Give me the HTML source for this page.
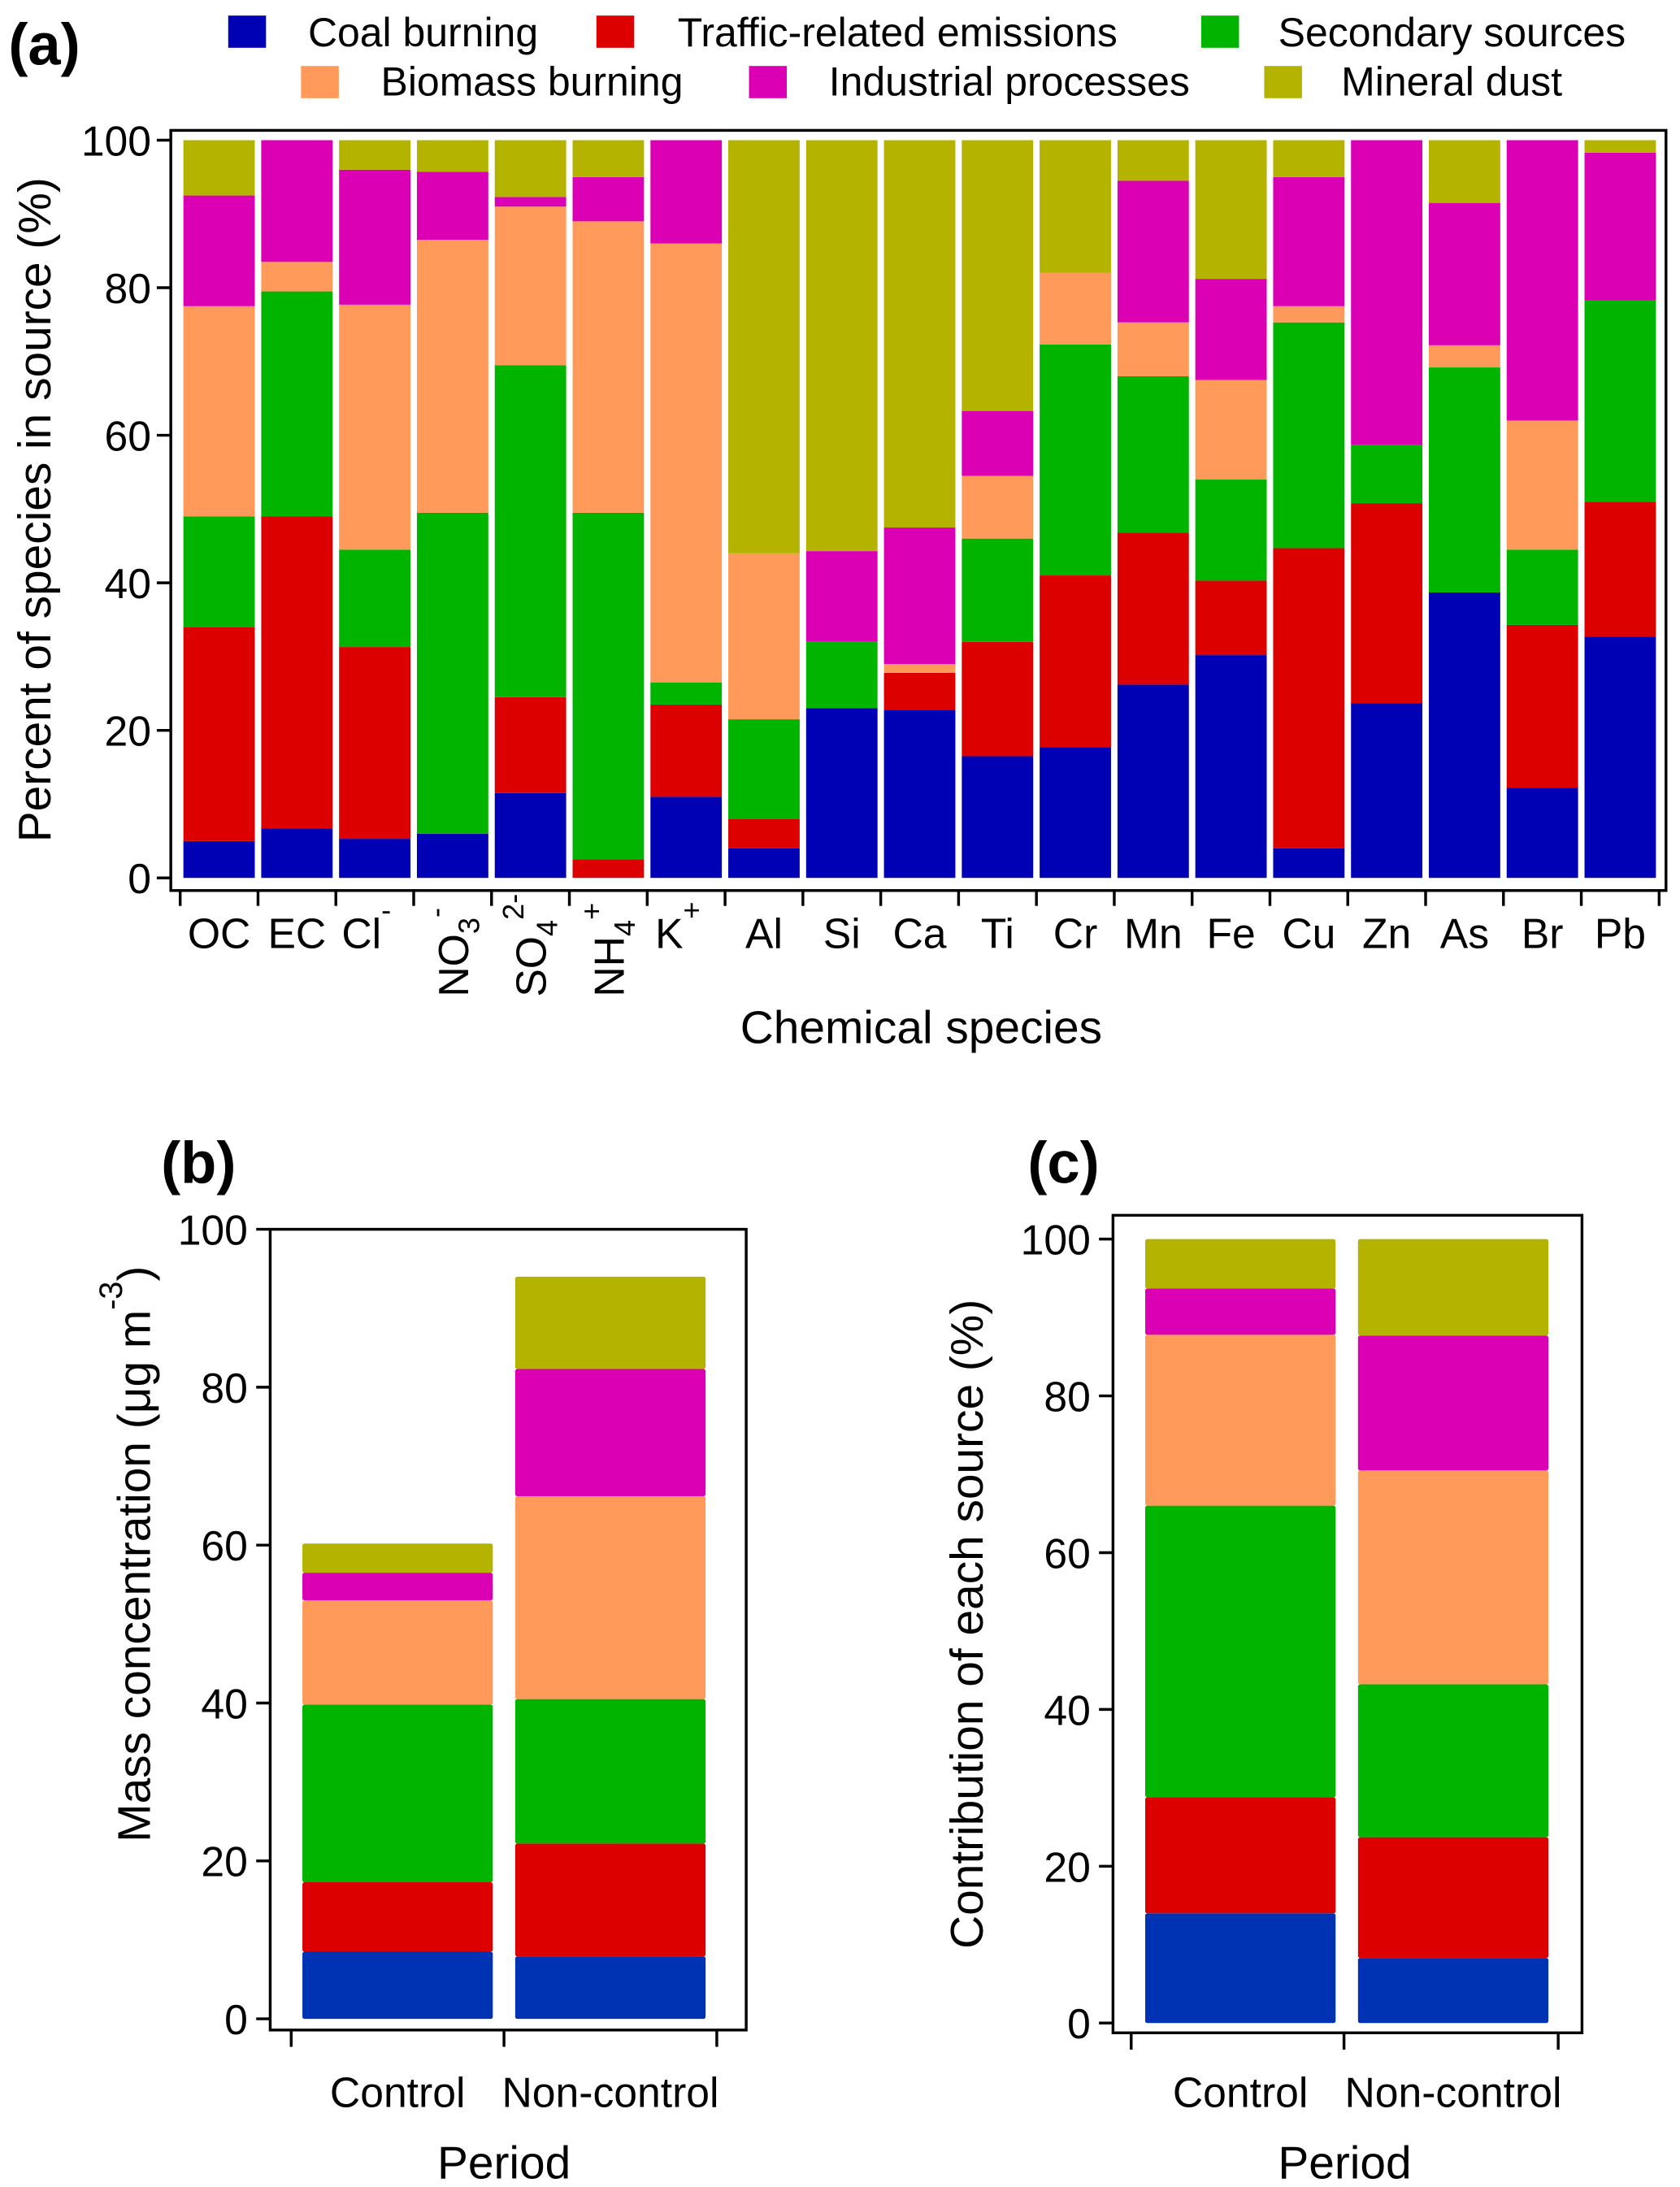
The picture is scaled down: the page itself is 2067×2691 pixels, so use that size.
<!DOCTYPE html>
<html><head><meta charset="utf-8"><style>
html,body{margin:0;padding:0;background:#fff}
svg{display:block;font-family:"Liberation Sans",sans-serif}
</style></head><body>
<svg id="fig" xmlns="http://www.w3.org/2000/svg" width="2067" height="2691" viewBox="0 0 1200 1562">
<rect x="0" y="0" width="1200" height="1562" fill="#fff"/>
<g id="legend" font-size="29" fill="#000">
 <g><rect x="163" y="11" width="27" height="23" fill="#0000b4"/><text x="220" y="33">Coal burning</text></g>
 <g><rect x="426" y="11" width="27" height="23" fill="#dc0000"/><text x="484" y="33">Traffic-related emissions</text></g>
 <g><rect x="858" y="11" width="27" height="23" fill="#00b400"/><text x="913" y="33">Secondary sources</text></g>
 <g><rect x="215" y="47" width="27" height="23" fill="#ff9a5a"/><text x="272" y="68">Biomass burning</text></g>
 <g><rect x="535" y="47" width="27" height="23" fill="#dc00b4"/><text x="592" y="68">Industrial processes</text></g>
 <g><rect x="903" y="47" width="27" height="23" fill="#b4b400"/><text x="958" y="68">Mineral dust</text></g>
</g>
<text x="6" y="46" font-size="42" font-weight="bold">(a)</text>
<text x="834" y="845" font-size="42" font-weight="bold" text-anchor="start" transform="translate(-100,0)">(c)</text>
<text x="115" y="845" font-size="42" font-weight="bold">(b)</text>
<g id="pa"></g>
<g id="pb"></g>
<g id="pc"></g>
</svg>
<script>
const sources = ["Coal burning","Traffic-related emissions","Secondary sources","Biomass burning","Industrial processes","Mineral dust"];
const colorsA = ["#0000b4","#dc0000","#00b400","#ff9a5a","#dc00b4","#b4b400"];
const colorsBC = ["#0033b4","#dc0000","#00b400","#ff9a5a","#dc00b4","#b4b400"];
const speciesA = ["OC","EC","Cl","NO3","SO4","NH4","K","Al","Si","Ca","Ti","Cr","Mn","Fe","Cu","Zn","As","Br","Pb"];
const coalA =      [5,6.7,5.3,6,11.5,0,11,4,23,22.8,16.5,17.7,26.2,30.2,4,23.7,38.7,12.2,32.7];
const trafficA =   [29,42.3,26,0,13,2.5,12.5,4,0,5,15.5,23.3,20.6,10.1,40.7,27.1,0,22.1,18.3];
const secondaryA = [15,30.5,13.2,43.5,45,47,3,13.5,9,0,14,31.3,21.2,13.7,30.6,7.9,30.5,10.2,27.3];
const biomassA =   [28.5,4,33.2,37,21.5,39.5,59.5,22.5,0,1.2,8.5,9.7,7.3,13.5,2.2,0,3,17.5,0];
const industrialA =[15,16.5,18.3,9.2,1.3,6,14,0,12.3,18.5,8.8,0,19.2,13.7,17.5,41.3,19.3,38,20];
const dustA =      [7.5,0,4,4.3,7.7,5,0,56,55.7,52.5,36.7,18,5.5,18.8,5,0,8.5,0,1.7];
const periods = ["Control","Non-control"];
const massB = [[8.5,7.9],[8.8,14.3],[22.5,18.3],[13.2,25.7],[3.5,16.1],[3.7,11.7]];
const contribC = [[14,8.3],[14.8,15.4],[37.2,19.5],[21.8,27.3],[5.9,17.2],[6.3,12.3]];
const yTicks = [0,20,40,60,80,100];
</script>
<script>
const NS="http://www.w3.org/2000/svg";
function mk(parent,tag,attrs,text){const e=document.createElementNS(NS,tag);for(const k in attrs)e.setAttribute(k,attrs[k]);if(text!==undefined)e.textContent=text;parent.appendChild(e);return e;}

// ---------- Panel A ----------
(function(){
 const g=document.getElementById('pa');
 const y0=627, ys=5.27; const yA=v=>y0-v*ys;
 const x0=156.5, step=55.6, bw=51; const xA=i=>x0+i*step;
 const series=[coalA,trafficA,secondaryA,biomassA,industrialA,dustA];
 for(let i=0;i<speciesA.length;i++){
  let cum=0;
  for(let s=0;s<6;s++){
   const v=series[s][i]; if(v<=0){continue;}
   const r=mk(g,'rect',{x:xA(i)-bw/2,y:yA(cum+v),width:bw,height:v*ys,fill:colorsA[s]});
   
   
   cum+=v;
  }
 }
 const fr=mk(g,'rect',{x:122,y:93,width:1068,height:543,fill:'none',stroke:'#000','stroke-width':2});
 
 
 for(const t of yTicks){
  const l=mk(g,'line',{x1:112,x2:122,y1:yA(t),y2:yA(t),stroke:'#000','stroke-width':2});
  
  
  const tx=mk(g,'text',{x:108,y:yA(t)+11,'font-size':30,'text-anchor':'end'},String(t));
  
  
 }
 for(let i=0;i<=speciesA.length;i++){
  const x=xA(i)-step/2;
  const l=mk(g,'line',{x1:x,x2:x,y1:636,y2:647,stroke:'#000','stroke-width':2});
  
  
 }
 const sups={Cl:'-',K:'+'};
 const rot={NO3:['NO','3','-'],SO4:['SO','4','2-'],NH4:['NH','4','+']};
 for(let i=0;i<speciesA.length;i++){
  const sp=speciesA[i];
  let t;
  if(rot[sp]){
   const p=rot[sp];
   t=mk(g,'text',{transform:`translate(${xA(i)+11},712) rotate(-90)`,'font-size':30});
   mk(t,'tspan',{},p[0]);
   mk(t,'tspan',{'font-size':21,dy:8},p[1]);
   mk(t,'tspan',{'font-size':21,dy:-24},p[2]);
  } else {
   t=mk(g,'text',{x:xA(i)-(sups[sp]?6:0),y:677,'font-size':30,'text-anchor':'middle'});
   mk(t,'tspan',{},sp);
   if(sups[sp]) mk(t,'tspan',{'font-size':21,dy:-20},sups[sp]);
  }
  
  
 }
 const xt=mk(g,'text',{x:658,y:745,'font-size':33,'text-anchor':'middle'},'Chemical species');
 
 
 const yt=mk(g,'text',{transform:'translate(36,364) rotate(-90)','font-size':33,'text-anchor':'middle'},'Percent of species in source (%)');
 
 
})();

// ---------- Panels B & C ----------
function drawBC(id,data,o){
 const g=document.getElementById(id);
 const yS=v=>o.y0-v*o.ys;
 for(let p=0;p<periods.length;p++){
  let cum=0;
  for(let s=0;s<6;s++){
   const v=data[s][p];
   const r=mk(g,'rect',{x:o.bx[p],y:yS(cum+v),width:o.bw,height:v*o.ys,fill:colorsBC[s],rx:1.5});
   
   
   cum+=v;
  }
 }
 const fr=mk(g,'rect',{x:o.fx,y:o.ft,width:o.fw,height:o.fb-o.ft,fill:'none',stroke:'#000','stroke-width':2});
 
 
 for(const t of yTicks){
  const l=mk(g,'line',{x1:o.fx-10,x2:o.fx,y1:yS(t),y2:yS(t),stroke:'#000','stroke-width':2});
  
  
  const tx=mk(g,'text',{x:o.fx-16,y:yS(t)+11,'font-size':30,'text-anchor':'end'},String(t));
  
  
 }
 for(const x of o.tx){
  const l=mk(g,'line',{x1:x,x2:x,y1:o.fb,y2:o.fb+12,stroke:'#000','stroke-width':2});
  
  
 }
 for(let p=0;p<periods.length;p++){
  const t=mk(g,'text',{x:o.bx[p]+o.bw/2,y:1505,'font-size':30,'text-anchor':'middle'},periods[p]);
  
  
 }
 const xt=mk(g,'text',{x:(o.tx[0]+o.tx[2])/2,y:1556,'font-size':33,'text-anchor':'middle'},'Period');
 
 
 return g;
}
const gb=drawBC('pb',massB,{n:'b',y0:1442,ys:5.64,bx:[216,368],bw:136,fx:193,ft:878,fw:340,fb:1450,tx:[208,360,512]});
const ytb=mk(gb,'text',{transform:'translate(107,1110) rotate(-90)','font-size':33,'text-anchor':'middle'});
mk(ytb,'tspan',{},'Mass concentration (μg m');
mk(ytb,'tspan',{'font-size':23,dy:-20},'-3');
mk(ytb,'tspan',{dy:20},')');


const gc=drawBC('pc',contribC,{n:'c',y0:1445,ys:5.6,bx:[818,970],bw:136,fx:795,ft:868,fw:335,fb:1452,tx:[808,960,1113]});
const ytc=mk(gc,'text',{transform:'translate(702,1160) rotate(-90)','font-size':33,'text-anchor':'middle'},'Contribution of each source (%)');


</script>
</body></html>
